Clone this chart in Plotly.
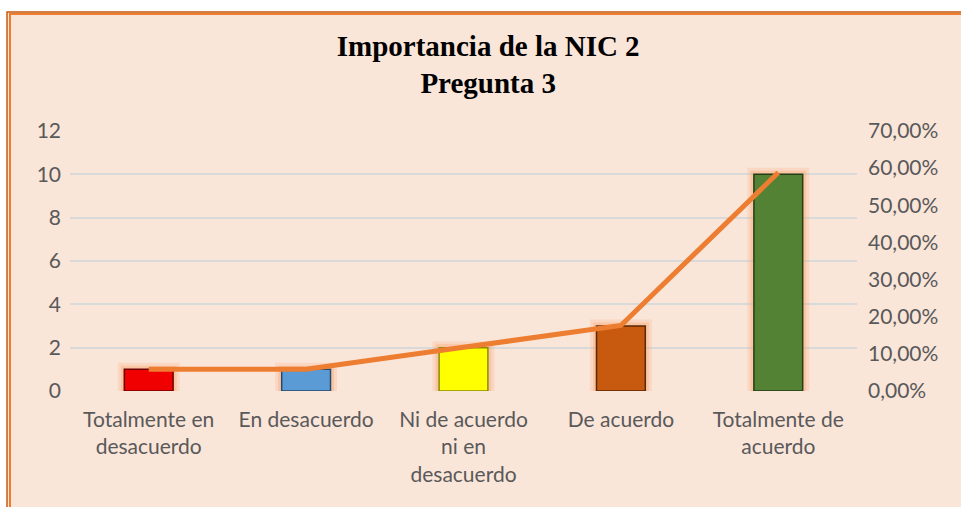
import plotly.graph_objects as go

# Survey answers (question 3)
categories = ["Totalmente en<br>desacuerdo", "En desacuerdo",
              "Ni de acuerdo<br>ni en<br>desacuerdo", "De acuerdo",
              "Totalmente de<br>acuerdo"]
frequency = [1, 1, 2, 3, 10]
percentage = [0.0588, 0.0588, 0.1176, 0.1765, 0.5882]
bar_colors = ["#F00000", "#5B9BD5", "#FFFF00", "#C85A10", "#548235"]
edge_colors = ["#700000", "#244A6E", "#8A8A00", "#5A2806", "#263D18"]

left_ticks = [0, 2, 4, 6, 8, 10, 12]
right_ticks = [0, 0.1, 0.2, 0.3, 0.4, 0.5, 0.6, 0.7]

W, H = 961, 507
ML, MR, MT, MB = 70, 104, 131, 116
PW, PH = W - ML - MR, H - MT - MB


def px_x(p):
    return (p - ML) / PW


def px_y(p):
    return (H - MB - p) / PH


fig = go.Figure()

# soft orange glow behind the bars (two layers)
for glow_w, glow_a in [(13, 0.18), (7, 0.3)]:
    fig.add_trace(go.Bar(
        x=categories,
        y=frequency,
        marker=dict(color="rgba(0,0,0,0)",
                    line=dict(color=f"rgba(250,155,90,{glow_a})", width=glow_w)),
        width=0.31,
        showlegend=False,
        hoverinfo="skip",
    ))

fig.add_trace(go.Bar(
    x=categories,
    y=frequency,
    marker=dict(color=bar_colors,
                line=dict(color=edge_colors, width=1.5)),
    width=0.31,
    showlegend=False,
    hoverinfo="skip",
))

fig.add_trace(go.Scatter(
    x=categories,
    y=percentage,
    yaxis="y2",
    mode="lines",
    line=dict(color="#ED7D31", width=5),
    showlegend=False,
    hoverinfo="skip",
))

# frame: peach background with double orange border
fig.add_shape(type="rect", xref="paper", yref="paper", layer="below",
              x0=px_x(7), x1=px_x(990), y0=px_y(540), y1=px_y(12),
              fillcolor="#FAE5D9", line=dict(color="#C55A11", width=1.5))
fig.add_shape(type="rect", xref="paper", yref="paper", layer="below",
              x0=px_x(10), x1=px_x(990), y0=px_y(540), y1=px_y(14),
              line=dict(color="#ED7D31", width=2))

fig.update_layout(
    width=W, height=H,
    margin=dict(l=ML, r=MR, t=MT, b=MB),
    paper_bgcolor="white",
    plot_bgcolor="rgba(0,0,0,0)",
    separators=",.",
    barmode="overlay",
    title=dict(
        text="<b>Importancia de la NIC 2<br>Pregunta 3</b>",
        font=dict(family="Liberation Serif", size=29, color="black"),
        x=0.508, xanchor="center", y=0.89, yanchor="middle",
    ),
    font=dict(family="Lato", color="#595959"),
    xaxis=dict(
        showgrid=False, showline=False, zeroline=False,
        tickfont=dict(size=21, color="#595959"),
        ticks="",
        ticklabelstandoff=14,
    ),
    yaxis=dict(
        range=[0, 12], tickvals=left_ticks,
        showgrid=True, gridcolor="#D9D9D9", gridwidth=2,
        zeroline=False, showline=False,
        tickfont=dict(size=21, color="#595959"),
        ticklabelstandoff=8,
    ),
    yaxis2=dict(
        range=[0, 0.7], tickvals=right_ticks, tickformat=".2%",
        overlaying="y", side="right",
        showgrid=False, zeroline=False, showline=False,
        tickfont=dict(size=21, color="#595959"),
        ticklabelstandoff=10,
    ),
)

fig.write_html("out.html", config={"displayModeBar": False},
               post_script="document.body.style.margin='0';")
